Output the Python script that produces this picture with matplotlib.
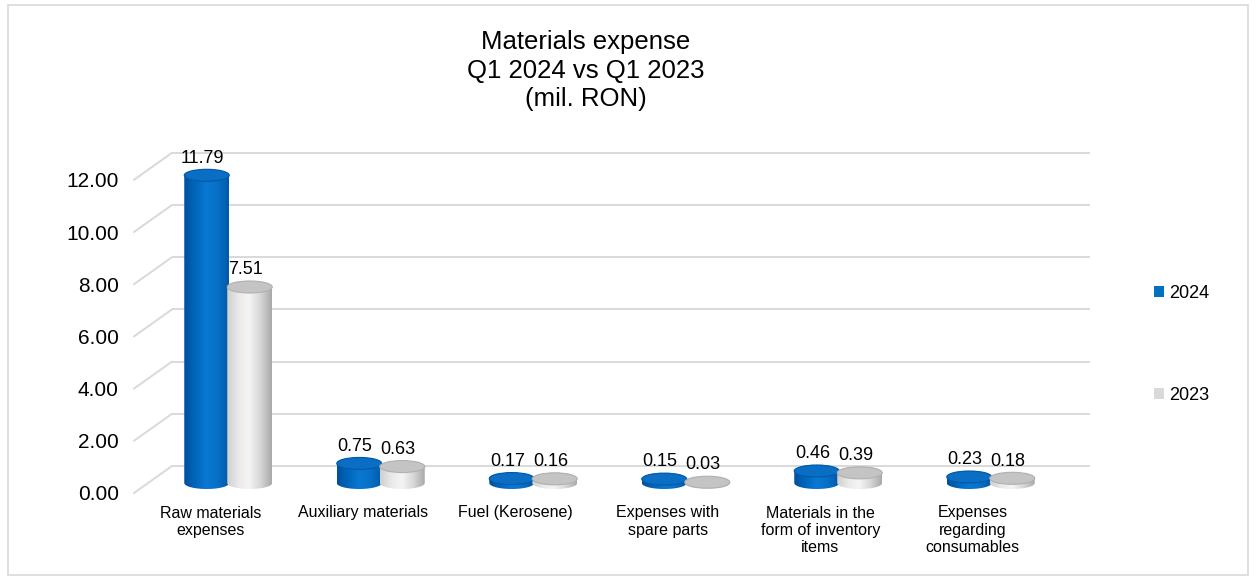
import numpy as np
import matplotlib
matplotlib.use("Agg")
import matplotlib.pyplot as plt
from matplotlib.patches import PathPatch, Ellipse, Rectangle, Patch, ConnectionPatch
from matplotlib.path import Path
from matplotlib.colors import LinearSegmentedColormap

plt.rcParams['font.family'] = ['Liberation Sans', 'DejaVu Sans']

# -------------------------------
# DATA
# -------------------------------
categories = ["Raw materials\nexpenses", "Auxiliary materials", "Fuel (Kerosene)",
              "Expenses with\nspare parts", "Materials in the\nform of inventory\nitems",
              "Expenses\nregarding\nconsumables"]
v2024 = [11.79, 0.75, 0.17, 0.15, 0.46, 0.23]
v2023 = [7.51, 0.63, 0.16, 0.03, 0.39, 0.18]
yticks = [0, 2, 4, 6, 8, 10, 12]
series_names = ["2024", "2023"]

# -------------------------------
# LAYOUT (pixels)
# -------------------------------
W, H = 1256, 578
K = 26.1            # pixels per unit on the value axis
XS = 152.5          # pixels per category
YMIN, YMAX = -1.0, 12.5
XLIM = (-0.5, 5.5)

fig = plt.figure(figsize=(W / 100, H / 100), dpi=100)


def px_axes(left, zero_row, width):
    # zero_row: pixel row (from the top) where value 0 sits
    bottom = zero_row - YMIN * K
    return fig.add_axes([left / W, (H - bottom) / H, width / W,
                         (YMAX - YMIN) * K / H])


def clean(ax):
    ax.set_facecolor("none")
    for s in ax.spines.values():
        s.set_visible(False)
    ax.set_ylim(YMIN, YMAX)


# back wall with gridlines
ax_back = px_axes(172, 466, 1090 - 172)
clean(ax_back)
ax_back.set_xlim(0, 1)
ax_back.set_xticks([])
ax_back.set_yticks([])
for t in yticks:
    ax_back.axhline(t, color="#d9d9d9", lw=1.4)

# plane the bars stand on
ax = px_axes(152, 483, 6 * XS)
clean(ax)
ax.set_xlim(*XLIM)
ax.set_xticks([])
ax.set_yticks([])

# front plane carrying the tick labels
ax_front = fig.add_axes([134 / W, (H - 493) / H, 6 * XS / W, YMAX * K / H])
ax_front.set_facecolor("none")
for s in ax_front.spines.values():
    s.set_visible(False)
ax_front.set_ylim(0, YMAX)
ax_front.set_xlim(*XLIM)
ax_front.set_yticks(yticks)
ax_front.set_yticklabels([f"{t:.2f}" for t in yticks], fontsize=15)
ax_front.set_xticks(range(len(categories)))
ax_front.set_xticklabels(categories, fontsize=11.5, linespacing=1.2)
ax_front.tick_params(axis="y", length=0, pad=11)
ax_front.tick_params(axis="x", length=0, pad=9)

# diagonal lines on the left wall
for t in yticks:
    con = ConnectionPatch(xyA=(XLIM[0], t), coordsA=ax_front.transData,
                          xyB=(0, t), coordsB=ax_back.transData,
                          color="#d9d9d9", lw=1.4)
    fig.add_artist(con)

# -------------------------------
# CYLINDERS
# -------------------------------
blue_cmap = LinearSegmentedColormap.from_list(
    "blue", ["#00509e", "#0066bb", "#0a78d2", "#0670c6", "#005aa8"])
gray_cmap = LinearSegmentedColormap.from_list(
    "gray", ["#cfcfcf", "#e9e9e9", "#f4f4f4", "#d6d6d6", "#a9a9a9"])

bar_w = 0.295
shift = 0.141
e = 6.0 / K          # half height of the ellipses in value units


def cylinder(xc, h, cmap, top_color, edge_color):
    x0, x1 = xc - bar_w / 2, xc + bar_w / 2
    t = np.linspace(np.pi, 2 * np.pi, 40)
    bottom = np.column_stack([xc + bar_w / 2 * np.cos(t), e * np.sin(t)])
    t2 = np.linspace(0, np.pi, 40)
    top = np.column_stack([xc + bar_w / 2 * np.cos(t2), h + e * np.sin(t2)])
    verts = np.vstack([[[x0, h]], bottom, [[x1, h]], top, [[x0, h]]])
    body = PathPatch(Path(verts), facecolor="none", edgecolor="none")
    ax.add_patch(body)
    grad = np.linspace(0, 1, 256).reshape(1, -1)
    im = ax.imshow(grad, cmap=cmap, extent=(x0, x1, -e, h + e),
                   aspect="auto", interpolation="bilinear", zorder=2)
    im.set_clip_path(body)
    ax.add_patch(Ellipse((xc, h), bar_w, 2 * e, facecolor=top_color,
                         edgecolor=edge_color, lw=0.8, zorder=3))


for i in range(len(categories)):
    cylinder(i - shift, v2024[i], blue_cmap, "#0a6ec4", "#005aa8")
    cylinder(i + shift, v2023[i], gray_cmap, "#c4c4c4", "#b0b0b0")
    ax.annotate(f"{v2024[i]:.2f}", (i - shift, v2024[i] + e), xytext=(-3, 2),
                textcoords="offset points", ha="center", va="bottom", fontsize=13)
    ax.annotate(f"{v2023[i]:.2f}", (i + shift, v2023[i] + e), xytext=(-3, 2),
                textcoords="offset points", ha="center", va="bottom", fontsize=13)

ax.set_xlim(*XLIM)
ax.set_ylim(YMIN, YMAX)

# -------------------------------
# TITLE, LEGEND, FRAME
# -------------------------------
fig.text(586 / W, 1 - 30 / H, "Materials expense\nQ1 2024 vs Q1 2023\n(mil. RON)",
         ha="center", va="top", fontsize=18.5, linespacing=1.24)

handles = [Patch(facecolor="#0070c0"), Patch(facecolor="#d9d9d9")]
fig.legend(handles, series_names, loc="center left",
           bbox_to_anchor=(1138 / W, 1 - 344.5 / H), frameon=False, fontsize=13,
           handlelength=0.55, handleheight=0.55, handletextpad=0.25,
           labelspacing=4.7)

fig.add_artist(Rectangle((8 / W, 3 / H), (1248 - 8) / W, (575 - 5) / H,
                         transform=fig.transFigure, fill=False,
                         edgecolor="#d9d9d9", lw=1.2))

fig.savefig("out.png", dpi=100)
